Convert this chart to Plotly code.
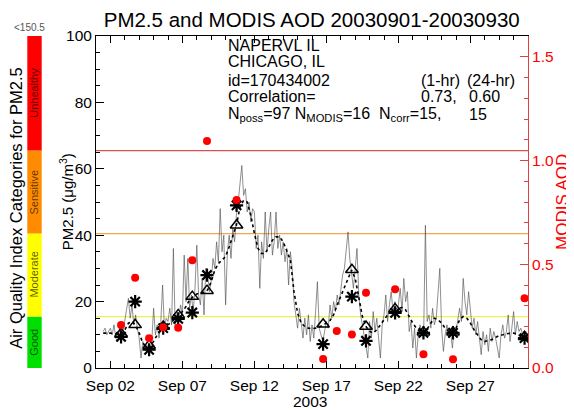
import pandas as pd
import plotly.graph_objects as go

# ---------------- data ----------------
# PM2.5 samples every 3 hours starting 2003-09-01 12:00 (ug/m3)
pm25_samples = [
    11, 12, 10, 11,
    12, 10, 13, 9, 8, 12, 9, 11,
    14, 17, 21, 15, 19, 13, 16, 12,
    9, 3, 8, 6, 5, 7, 5, 8,
    18, 10, 13, 9, 14, 25, 12, 15,
    14, 18, 13, 36, 12, 17, 15, 19,
    16, 34, 20, 33, 18, 22, 17, 24,
    37, 22, 19, 27, 16, 30, 28, 23,
    26, 33, 30, 38, 32, 48, 35, 40,
    19, 35, 40, 33, 42, 38, 46, 50,
    55, 61, 52, 54, 47, 50, 44, 48,
    47, 36, 40, 24, 38, 33, 47, 35,
    42, 47, 34, 38, 47, 36, 40, 34,
    38, 32, 36, 25, 35, 30, 20, 16,
    12, 18, 14, 9, 15, 10, 16, 8,
    13, 9, 17, 26, 12, 10, 8, 11,
    14, 12, 19, 15, 20, 17, 22, 19,
    24, 28, 30, 36, 41, 33, 29, 24,
    30, 36, 22, 16, 13, 10, 7, 3,
    14, 9, 17, 11, 15, 9, 3, 13,
    16, 22, 14, 19, 23, 17, 20, 16,
    19, 24, 17, 27, 20, 23, 11, 14,
    6, 12, 3, 10, 13, 11, 9, 43,
    14, 16, 12, 18, 13, 15, 22, 30,
    12, 5, 10, 13, 9, 11, 6, 12,
    11, 15, 18, 14, 27, 20, 16, 23,
    17, 12, 15, 10, 14, 8, 4, 11,
    7, 10, 5, 12, 8, 11, 9, 6,
    3, 10, 13, 9, 11, 16, 8, 12,
    17, 10, 14, 11, 12, 10, 9, 11,
]
pm25_start = "2003-09-01 12:00"

# 24-hr running mean, every 6 hours starting 2003-09-01 12:00
pm25_24hr = [
    10.5, 10.6, 10.5, 10.3, 10.2, 10.2, 11.5, 13.5, 14.0, 12.8,
    10.5, 7.5, 6.5, 6.5, 8.0, 10.0, 11.5, 12.3, 13.0, 13.8,
    15.0, 16.0, 17.0, 18.5, 20.5, 21.5, 22.3, 22.6, 22.8, 23.5,
    26.0, 29.5, 31.5, 32.5, 33.6, 36.5, 40.0, 43.0, 48.5, 50.5,
    50.0, 46.0, 40.5, 36.0, 34.5, 34.5, 36.5, 38.5, 39.5, 39.5,
    38.0, 35.5, 32.5, 23.0, 16.5, 13.5, 12.5, 12.0, 11.8, 12.0,
    12.3, 13.0, 13.5, 14.3, 16.0, 19.0, 21.5, 24.5, 27.0, 29.5,
    27.0, 21.5, 15.5, 12.5, 11.0, 10.5, 11.5, 13.0, 14.5, 16.0,
    17.0, 17.8, 18.0, 18.2, 17.5, 15.5, 13.5, 12.0, 11.0, 10.6,
    11.8, 13.5, 15.0, 14.5, 13.5, 12.0, 11.0, 10.6, 12.0, 14.5,
    15.5, 15.0, 13.5, 11.5, 10.0, 8.5, 8.0, 8.2, 8.6, 9.2,
    9.8, 10.0, 10.3, 10.5, 10.5, 10.2, 9.6, 9.0,
]
pm25_24hr_start = "2003-09-01 12:00"

# MODIS overpasses
modis_times = [
    "2003-09-02 17:45", "2003-09-03 17:15", "2003-09-04 16:30", "2003-09-05 16:00",
    "2003-09-06 17:00", "2003-09-07 16:30", "2003-09-08 17:00", "2003-09-10 18:15",
    "2003-09-16 18:30", "2003-09-17 17:15", "2003-09-18 18:30", "2003-09-19 18:00",
    "2003-09-21 18:30", "2003-09-23 17:45", "2003-09-25 19:00", "2003-09-30 18:15",
]
modis_aod = [0.207, 0.435, 0.143, 0.196, 0.194, 0.519, 1.094, 0.81,
             0.043, 0.178, 0.162, 0.363, 0.379, 0.066, 0.042, 0.336]

# PM2.5 matched to MODIS overpasses (no match on Sep 17)
match_times = [
    "2003-09-02 17:45", "2003-09-03 17:15", "2003-09-04 16:30", "2003-09-05 16:00",
    "2003-09-06 17:00", "2003-09-07 16:30", "2003-09-08 17:00", "2003-09-10 18:15",
    "2003-09-16 18:30", "2003-09-18 18:30", "2003-09-19 18:00",
    "2003-09-21 18:30", "2003-09-23 17:45", "2003-09-25 19:00", "2003-09-30 18:15",
]
pm25_1hr_match = [9.4, 20, 5.5, 12, 14.8, 16.7, 28, 49, 7.2, 21.5, 8.2, 16.6, 10.6, 10.6, 9.0]
pm25_24hr_match = [10.3, 13, 6.8, 12.5, 16, 21.5, 23.3, 43, 13.2, 29.6, 12.5, 17.8, 10.8, 10.8, 9.4]

# AQI categories for PM2.5
aqi_bounds = [0, 15.5, 40.5, 65.5, 100]
aqi_names = ["Good", "Moderate", "Sensitive", "Unhealthy"]
aqi_colors = ["#00e000", "#ffff00", "#ff8c00", "#ff0000"]
aqi_line_colors = ["#f0f050", "#f0a850", "#d85050"]

FONT = "Liberation Sans, Arial, Helvetica, sans-serif"

hourly_t = pd.date_range(pm25_start, periods=len(pm25_samples), freq="3h")
avg_t = pd.date_range(pm25_24hr_start, periods=len(pm25_24hr), freq="6h")

fig = go.Figure()

fig.add_trace(go.Scatter(x=hourly_t, y=pm25_samples, mode="lines",
                         line=dict(color="rgba(80,80,80,0.8)", width=0.8),
                         hoverinfo="skip", showlegend=False))
fig.add_trace(go.Scatter(x=avg_t, y=pm25_24hr, mode="lines",
                         line=dict(color="black", width=1.6, dash="dot"),
                         showlegend=False))
fig.add_trace(go.Scatter(x=pd.to_datetime(match_times), y=pm25_24hr_match, mode="markers",
                         marker=dict(symbol="triangle-up-open", size=11, color="black",
                                     line=dict(width=1.5, color="black")),
                         showlegend=False))
fig.add_trace(go.Scatter(x=pd.to_datetime(match_times), y=pm25_1hr_match, mode="markers",
                         marker=dict(symbol="asterisk-open", size=11, color="black",
                                     line=dict(width=2.2, color="black")),
                         showlegend=False))
fig.add_trace(go.Scatter(x=pd.to_datetime(modis_times), y=modis_aod, mode="markers",
                         yaxis="y2",
                         marker=dict(symbol="circle", size=8, color="red"),
                         showlegend=False))

shapes = []
# AQI threshold lines
for v, c in zip(aqi_bounds[1:4], aqi_line_colors):
    shapes.append(dict(type="line", xref="paper", yref="y", x0=0, x1=1, y0=v, y1=v,
                       line=dict(color=c, width=1.2), layer="below"))
# AQI colour bar
for i in range(4):
    shapes.append(dict(type="rect", xref="paper", yref="y",
                       x0=-0.159, x1=-0.1257, y0=aqi_bounds[i], y1=aqi_bounds[i + 1],
                       fillcolor=aqi_colors[i], line=dict(width=0)))

annotations = []
for i in range(4):
    annotations.append(dict(xref="paper", yref="y", x=-0.1423,
                            y=(aqi_bounds[i] + aqi_bounds[i + 1]) / 2,
                            xanchor="center", yanchor="middle",
                            text=aqi_names[i], textangle=-90, showarrow=False,
                            font=dict(family=FONT, size=11, color="rgba(0,0,0,0.65)")))
annotations += [
    dict(xref="paper", yref="paper", x=-0.153, y=1.027, text="<150.5", showarrow=False,
         xanchor="center", yanchor="middle",
         font=dict(family=FONT, size=10, color="#555555")),
    dict(xref="paper", yref="paper", x=-0.1855, y=0.482,
         xanchor="center", yanchor="middle",
         text="Air Quality Index Categories for PM2.5", textangle=-90, showarrow=False,
         font=dict(family=FONT, size=16.5, color="black")),
    dict(xref="paper", yref="paper", x=-0.069, y=0.5,
         xanchor="center", yanchor="middle",
         text="PM2.5 (\u03bcg/m<sup>3</sup>)", textangle=-90, showarrow=False,
         font=dict(family=FONT, size=15, color="black")),
    dict(xref="paper", yref="paper", x=1.0787, y=0.5,
         xanchor="center", yanchor="middle",
         text="MODIS AOD", textangle=-90, showarrow=False,
         font=dict(family=FONT, size=17, color="red")),
    dict(xref="paper", yref="paper", x=0.495, y=-0.1, text="2003", showarrow=False,
         xanchor="center", yanchor="middle",
         font=dict(family=FONT, size=15.5, color="black")),
]

info_font = dict(family=FONT, size=16, color="black")
def info(px, py, text):
    return dict(xref="paper", yref="paper", x=(px - 96) / 432, y=(368 - py) / 332,
                text=text, showarrow=False, xanchor="left", yanchor="middle",
                font=info_font)

annotations += [
    info(226, 45, "NAPERVL IL"),
    info(226, 62, "CHICAGO, IL"),
    info(226, 80, "id=170434002"),
    info(419, 80, "(1-hr)"),
    info(465, 80, "(24-hr)"),
    info(226, 97, "Correlation="),
    info(419, 97, "0.73,"),
    info(467, 97, "0.60"),
    info(226, 114, "N<sub>poss</sub>=97 N<sub>MODIS</sub>=16"),
    info(377, 114, "N<sub>corr</sub>=15,"),
    info(467, 114, "15"),
]

# The page body adds an 8px offset, so the figure is 8px smaller and margins shifted.
fig.update_layout(
    width=566, height=402,
    margin=dict(l=88, r=46, t=28, b=42, autoexpand=False),
    paper_bgcolor="white", plot_bgcolor="white",
    font=dict(family=FONT, size=15, color="black"),
    title=dict(text="PM2.5 and MODIS AOD 20030901-20030930", xref="container",
               x=0.5366, xanchor="center", y=1 - 12 / 402, yanchor="middle",
               font=dict(family=FONT, size=20.5, color="black")),
    xaxis=dict(type="date", range=["2003-09-01", "2003-10-01"],
               tick0="2003-09-02", dtick=5 * 86400000, tickformat="%b %d",
               ticks="inside", ticklen=7, tickcolor="black", ticklabelstandoff=3,
               showline=True, linecolor="black", linewidth=1, mirror="ticks",
               showgrid=False, zeroline=False,
               minor=dict(dtick=86400000, tick0="2003-09-01", ticks="inside",
                          ticklen=4, tickcolor="black", showgrid=False),
               tickfont=dict(family=FONT, size=15.5, color="black")),
    yaxis=dict(range=[0, 100], dtick=20, ticks="inside", ticklen=8, tickcolor="black",
               showline=True, linecolor="black", linewidth=1, mirror=False,
               showgrid=False, zeroline=False,
               minor=dict(dtick=5, ticks="inside", ticklen=4, tickcolor="black",
                          showgrid=False),
               tickfont=dict(family=FONT, size=15.5, color="black")),
    yaxis2=dict(range=[0, 1.6], overlaying="y", side="right",
                tickvals=[0, 0.5, 1.0, 1.5], tickformat=".1f",
                ticks="inside", ticklen=8, tickcolor="#e04040",
                showline=True, linecolor="#e04040", linewidth=1,
                showgrid=False, zeroline=False,
                minor=dict(dtick=0.1, ticks="inside", ticklen=4, tickcolor="#e04040",
                           showgrid=False),
                tickfont=dict(family=FONT, size=15.5, color="red")),
    shapes=shapes,
    annotations=annotations,
    showlegend=False,
)

fig.write_html("out.html")
